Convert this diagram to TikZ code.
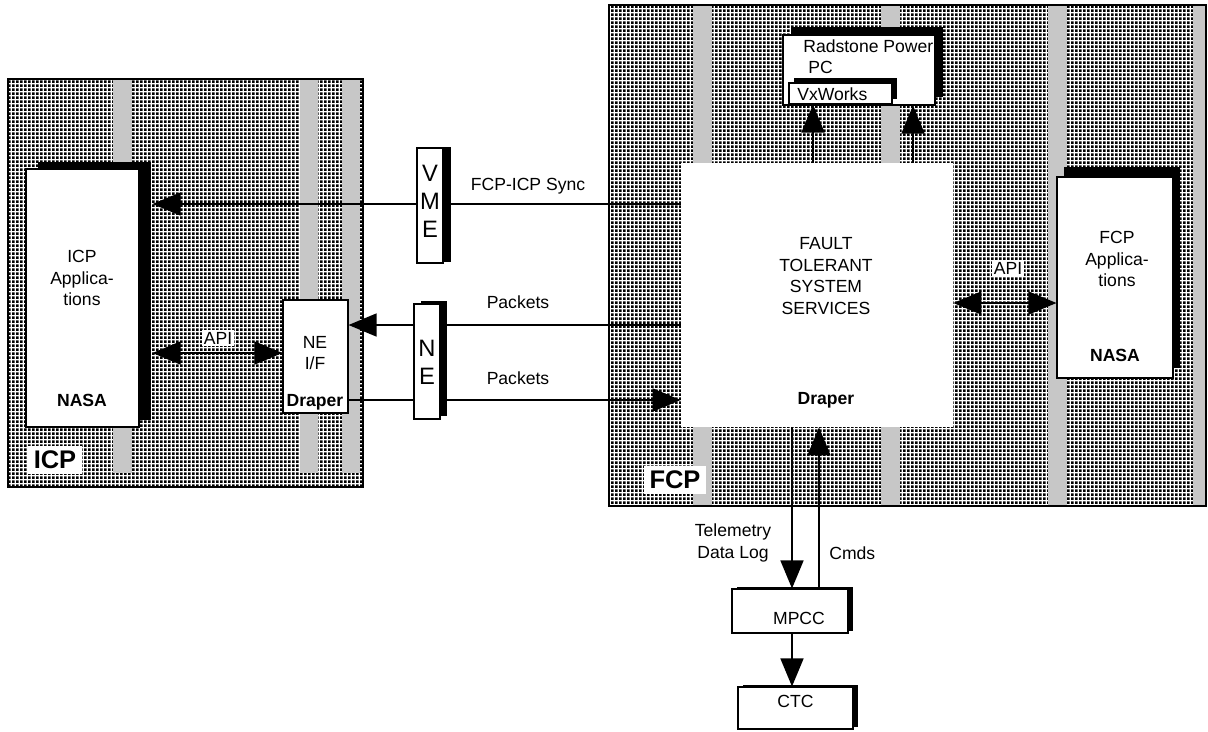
\documentclass[tikz,border=0pt]{standalone}
\usepackage{fontspec}
\setmainfont{Liberation Sans}
\usetikzlibrary{arrows.meta, positioning, shadows, fit, calc, patterns.meta}

\tikzdeclarepattern{
    name=paneldots,
    type=uncolored,
    bottom left={(0pt,0pt)}, top right={(2.4pt,2.4pt)},
    tile size={(2.4pt,2.4pt)},
    code={\fill (0pt,0pt) rectangle (1.7pt,1.7pt);}
}

\begin{document}
\begin{tikzpicture}[
        x=0.02cm, y=-0.02cm,
        font=\fontsize{10}{12.3}\selectfont,
        panel/.style={pattern=paneldots, pattern color=black},
        stripe/.style={fill=black!22},
        box/.style={rectangle, draw, fill=white, line width=0.6pt, inner sep=0pt},
        blank/.style={rectangle, fill=white, inner sep=0pt},
        shade/.style 2 args={general shadow={fill=black, shadow xshift=#1, shadow yshift=#2}},
        tag/.style={fill=white, inner sep=1pt},
        bigtag/.style={fill=white, inner sep=3pt, font=\fontsize{14.5}{16}\selectfont\bfseries},
        tall/.style={align=center, font=\fontsize{13.5}{16}\selectfont},
        plainline/.style={line width=0.8pt},
        arrowline/.style={-{Triangle[length=0.56cm, width=0.46cm]}, line width=0.8pt},
        dblarrow/.style={{Triangle[length=0.56cm, width=0.46cm]}-{Triangle[length=0.56cm, width=0.46cm]}, line width=0.8pt}
    ]
    \useasboundingbox (0,0) rectangle (1208,731);

    % processor panels
    \fill[panel] (8,79) rectangle (363,487);
    \foreach \xa/\xb in {113/132, 300/318, 342/360}
        \fill[stripe] (\xa,79) rectangle (\xb,473);
    \draw[line width=0.6pt] (8,79) rectangle (363,487);
    \fill[panel] (609,5) rectangle (1206,506);
    \foreach \xa/\xb in {693/712, 881/900, 1048/1067, 1193/1206}
        \fill[stripe] (\xa,6) rectangle (\xb,505);
    \draw[line width=0.6pt] (609,5) rectangle (1206,506);
    \node[bigtag] (icptag) at (55,460) {ICP};
    \node[bigtag] (fcptag) at (675,480) {FCP};

    % ICP side
    \node[box, shade={0.24cm}{0.14cm}, fit={(26,169) (139,427)}] (icpapp) {};
    \node[align=center] (icpapptext) at (82,278) {ICP\\Applica-\\tions};
    \node (icpnasa) at (82,400) {\textbf{NASA}};
    \node[box, fit={(283,300) (348,413)}] (neif) {};
    \node[align=center] (neiftext) at (315,353) {NE\\I/F};
    \node (neifdraper) at (315,402) {\textbf{Draper}};

    % links
    \node[box, shade={0.15cm}{0.03cm}, fit={(417,148) (443,263)}] (vme) {};
    \node[tall] (vmetext) at (430,201) {V\\M\\E};
    \node[box, shade={0.14cm}{0.06cm}, fit={(414,304) (440,419)}] (ne) {};
    \node[tall] (netext) at (427,362) {N\\E};

    % FCP side
    \node[blank, fit={(681,163) (953,427)}] (ftss) {};
    \node[align=center] (ftsstext) at (826,276) {FAULT\\TOLERANT\\SYSTEM\\SERVICES};
    \node (ftssdraper) at (826,400) {\textbf{Draper}};
    \node[box, shade={0.16cm}{0.16cm}, fit={(783,35) (935,105)}] (radstone) {};
    \node[anchor=west, inner sep=0pt] (radstonetext) at (803,46) {Radstone Power};
    \node[anchor=west, inner sep=0pt] (radstonepc) at (808,67) {PC};
    \node[box, shade={0.1cm}{0.1cm}, fit={(789,83) (892,104)}] (vxworks) {};
    \node[anchor=west, inner sep=0pt] (vxworkstext) at (797,94) {VxWorks};
    \node[box, shade={0.14cm}{0.2cm}, fit={(1057,177) (1173,378)}] (fcpapp) {};
    \node[align=center] (fcpapptext) at (1117,259) {FCP\\Applica-\\tions};
    \node (fcpnasa) at (1115,355) {\textbf{NASA}};

    % ground side
    \node[box, shade={0.1cm}{0.04cm}, fit={(732,589) (848,633)}] (mpcc) {};
    \node (mpcctext) at (799,618) {MPCC};
    \node[box, shade={0.1cm}{0.04cm}, fit={(738,687) (853,729)}] (ctc) {CTC};

    % connectors
    \draw[plainline] (ftss.west |- 0,204) -- (vme.east |- 0,204);
    \draw[arrowline] (vme.west |- 0,204) -- ($(icpapp.east |- 0,204)+(13,0)$);
    \draw[plainline] (ftss.west |- 0,325) -- (ne.east |- 0,325);
    \draw[arrowline] (ne.west |- 0,325) -- (neif.east |- 0,325);
    \draw[plainline] (neif.east |- 0,400) -- (ne.west |- 0,400);
    \draw[arrowline] (ne.east |- 0,400) -- (ftss.west |- 0,400);
    \draw[dblarrow] ($(icpapp.east |- 0,353)+(13,0)$) -- (neif.west |- 0,353);
    \draw[dblarrow] (ftss.east |- 0,303) -- (fcpapp.west |- 0,303);
    \draw[arrowline] (ftss.north -| 813,0) -- (vxworks.south -| 813,0);
    \draw[arrowline] (ftss.north -| 913,0) -- (radstone.south -| 913,0);
    \draw[arrowline] (ftss.south -| 792,0) -- (mpcc.north -| 792,0);
    \draw[arrowline] (mpcc.north -| 819,0) -- (ftss.south -| 819,0);
    \draw[arrowline] (mpcc.south -| 792,0) -- (ctc.north -| 792,0);

    % connector labels
    \node (synclabel) at (528,186) {FCP-ICP Sync};
    \node (pkttoplabel) at (518,302) {Packets};
    \node (pktbotlabel) at (518,378) {Packets};
    \node[tag] (apileft) at (218,338) {API};
    \node[tag] (apiright) at (1008,268) {API};
    \node[align=center] (telelabel) at (733,543) {Telemetry\\Data Log};
    \node[anchor=west, inner sep=0pt] (cmdslabel) at (829,553) {Cmds};
\end{tikzpicture}
\end{document}
